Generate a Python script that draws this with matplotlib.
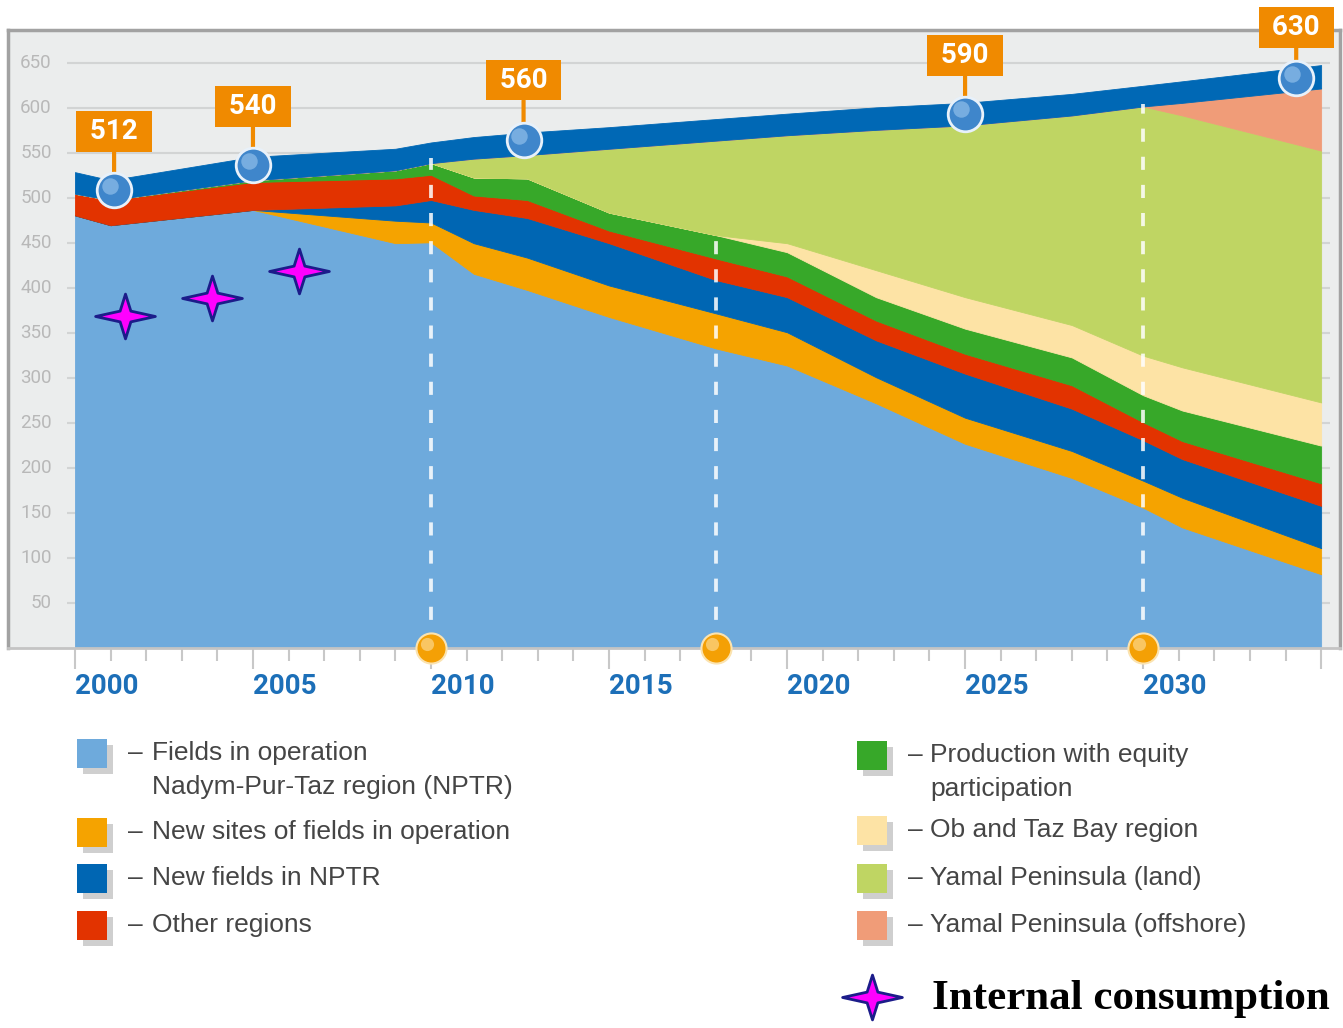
import matplotlib
matplotlib.use("Agg")
import matplotlib.pyplot as plt
from matplotlib.path import Path
from matplotlib.patches import Rectangle
from matplotlib.lines import Line2D
from matplotlib.transforms import offset_copy

# data (bcm per year)
years = [2000, 2001, 2005, 2009, 2010, 2011.2, 2012.7, 2015, 2018, 2020,
         2022.5, 2025, 2028, 2030, 2031.1, 2035]
fields_nptr = [481, 470, 487, 450, 451, 416, 398, 368, 333, 314, 272, 227, 189, 156, 134, 82]
new_sites = [0, 0, 0, 25, 22, 34, 36, 35, 39, 37, 29, 29, 30, 30, 33, 29]
new_fields = [0, 0, 0, 17, 25, 37, 44, 47, 37, 39, 41, 49, 47, 45, 43, 47]
other_regions = [24, 28, 31, 30, 28, 16, 20, 14, 24, 23, 22, 22, 26, 20, 20, 25]
equity = [0, 0, 2, 9, 13, 20, 24, 20, 26, 27, 26, 28, 31, 30, 34, 42]
ob_taz = [0, 0, 0, 0, 0, 0, 0, 0, 0, 10, 30, 35, 36, 44, 48, 48]
yamal_land = [0, 0, 0, 0, 0, 21, 26, 71, 105, 120, 156, 191, 233, 277, 280, 280]
yamal_offshore = [0, 0, 0, 0, 0, 0, 0, 0, 0, 0, 0, 0, 0, 0, 14, 69]
total_band = [24, 22, 26, 24, 23, 24, 25, 24, 24, 24, 25, 25, 24, 23, 24, 26]

marker_years = [2001.1, 2005, 2012.6, 2025, 2034.3]
marker_values = [509, 537, 565, 594, 634]
marker_labels = ["512", "540", "560", "590", "630"]

dash_years = [2010, 2018, 2030]
dash_tops = [545, 459, 605]

star_years = [2001.4, 2003.85, 2006.3]
star_values = [369, 389, 419]

y_ticks = list(range(50, 651, 50))
x_major = list(range(2000, 2036, 5))
x_labels = ["2000", "2005", "2010", "2015", "2020", "2025", "2030", ""]

legend_left = ["Fields in operation\nNadym-Pur-Taz region (NPTR)",
               "New sites of fields in operation",
               "New fields in NPTR",
               "Other regions"]
legend_right = ["Production with equity\nparticipation",
                "Ob and Taz Bay region",
                "Yamal Peninsula (land)",
                "Yamal Peninsula (offshore)"]

colors = ["#6eaadc", "#f5a300", "#0066b3", "#e23300", "#37a829",
          "#fde3a5", "#bfd563", "#f09c78", "#0068b5"]

W, H = 1343, 1028
fig = plt.figure(figsize=(W / 100, H / 100), dpi=100)


def fx(px):
    return px / W


def fy(py):
    return 1 - py / H


ax = fig.add_axes([fx(8), fy(648), (1340 - 8) / W, (648 - 30) / H])
ax.set_facecolor("#ebeded")
ax.set_xlim(1998.12, 2035.53)
ax.set_ylim(0, 687)

# grid + y labels inside the frame
ax.hlines(y_ticks, 1999.78, 2035.25, colors="#d2d4d4", lw=1.5, zorder=1)
for v in y_ticks:
    ax.text(1999.35, v, str(v), ha="right", va="center", fontsize=13.5,
            family="Roboto", color="#b8b8b8")

polys = ax.stackplot(years, fields_nptr, new_sites, new_fields, other_regions,
                     equity, ob_taz, yamal_land, yamal_offshore, total_band,
                     colors=colors, zorder=2)
for p, c in zip(polys, colors):
    p.set_edgecolor(c)
    p.set_linewidth(0.6)

ax.vlines(dash_years, 0, dash_tops, colors="white", lw=2.7,
          linestyles=(0, (3.5, 4)), alpha=0.85, zorder=3)

# orange dots on the axis
hl = offset_copy(ax.transData, fig=fig, x=-3, y=3, units="points")
ax.scatter(dash_years, [0] * len(dash_years), s=470, c="#f4a005",
           edgecolors="#fbe3b0", linewidths=1.5, zorder=6, clip_on=False)
ax.scatter(dash_years, [0] * len(dash_years), s=90, c="#fbd07a", alpha=0.8,
           linewidths=0, zorder=6, clip_on=False, transform=hl)

# value markers and labels
ax.scatter(marker_years, marker_values, s=620, c="#3f86cb",
           edgecolors="#e8f1fa", linewidths=2, zorder=7, clip_on=False)
ax.scatter(marker_years, marker_values, s=140, c="#8fbfea", alpha=0.7,
           linewidths=0, zorder=7, clip_on=False, transform=hl)
label_offsets = [42, 42, 43, 42, 36]
for xv, yv, lab, off in zip(marker_years, marker_values, marker_labels, label_offsets):
    ax.annotate(" " + lab + " ", xy=(xv, yv), xytext=(0, off),
                textcoords="offset points", ha="center", va="center",
                fontsize=20, fontweight="bold", family="Roboto", color="white",
                bbox=dict(boxstyle="square,pad=0.25", fc="#f08a00", ec="none"),
                arrowprops=dict(arrowstyle="-", color="#f08a00", lw=3,
                                shrinkA=0, shrinkB=12),
                annotation_clip=False, zorder=6)

# internal consumption stars
star = Path([(0, 0.75), (0.18, 0.18), (1, 0), (0.18, -0.18), (0, -0.75),
             (-0.18, -0.18), (-1, 0), (-0.18, 0.18), (0, 0.75)], closed=True)
ax.plot(star_years, star_values, ls="none", marker=star, markersize=43,
        markerfacecolor="#ff00ff", markeredgecolor="#1c1c8a",
        markeredgewidth=2, zorder=8)

# frame and ticks
ax.set_yticks([])
for side in ["left", "top", "right"]:
    ax.spines[side].set_color("#a2a2a2")
    ax.spines[side].set_linewidth(2.5)
ax.spines["bottom"].set_color("#c4c4c4")
ax.spines["bottom"].set_linewidth(2)
ax.set_xticks(x_major)
ax.set_xticks(range(2000, 2036), minor=True)
ax.set_xticklabels(x_labels)
ax.tick_params(axis="x", which="major", length=15, width=1.5, color="#c8c8c8",
               pad=3, labelsize=20, labelcolor="#1c6fb8")
ax.tick_params(axis="x", which="minor", length=9, width=1.5, color="#c8c8c8")
for lbl in ax.get_xticklabels():
    lbl.set_ha("left")
    lbl.set_family("Roboto")
    lbl.set_fontweight("bold")

# legend
def legend_entry(px, py, color, text, dash_x, text_x):
    fig.add_artist(Rectangle((fx(px + 6), fy(py + 21)), 30 / W, 29 / H,
                             transform=fig.transFigure, color="#cfcfcf", lw=0))
    fig.add_artist(Rectangle((fx(px), fy(py + 15)), 30 / W, 29 / H,
                             transform=fig.transFigure, color=color, lw=0))
    fig.text(fx(dash_x), fy(py), "–", ha="left", va="center", fontsize=19,
             family="Liberation Sans", color="#454545")
    lines = text.split("\n")
    for i, line in enumerate(lines):
        fig.text(fx(text_x), fy(py + 34 * i), line, ha="left", va="center",
                 fontsize=19, family="Liberation Sans", color="#454545")


left_y = [753, 832, 878, 925]
right_y = [755, 830, 878, 925]
for i, t in enumerate(legend_left):
    legend_entry(77, left_y[i], colors[i], t, 128, 152)
for i, t in enumerate(legend_right):
    legend_entry(857, right_y[i], colors[4 + i], t, 908, 930)

fig.add_artist(Line2D([fx(872)], [fy(997)], transform=fig.transFigure,
                      ls="none", marker=star, markersize=43,
                      markerfacecolor="#ff00ff", markeredgecolor="#1c1c8a",
                      markeredgewidth=2))
fig.text(fx(932), fy(999), "Internal consumption", ha="left", va="center",
         fontsize=31, family="Liberation Serif", fontweight="bold", color="black")

fig.savefig("out.png", dpi=100)
